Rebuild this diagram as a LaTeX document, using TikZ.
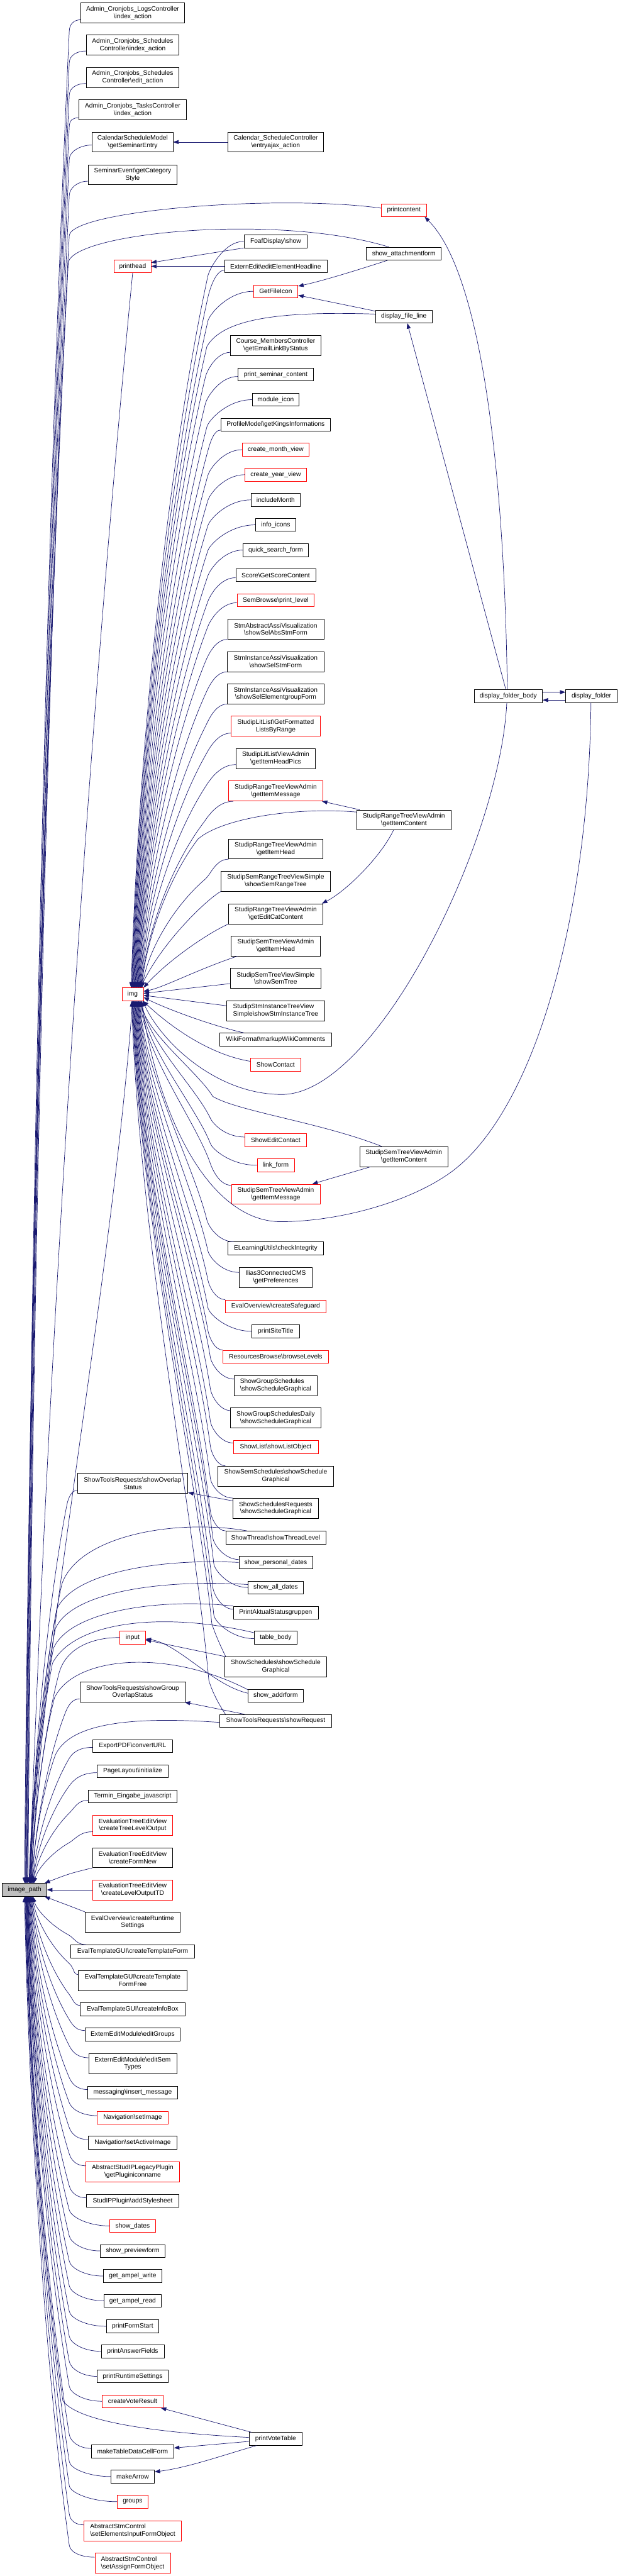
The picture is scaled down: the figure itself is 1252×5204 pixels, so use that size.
\documentclass[tikz,border=0pt]{standalone}
\usepackage{fontspec}
\newfontfamily\labfont{Liberation Sans}
\usetikzlibrary{arrows.meta,calc}
\definecolor{navy}{RGB}{25,25,112}
\definecolor{boxred}{RGB}{255,0,0}
\definecolor{ipgray}{RGB}{191,191,191}
\newcommand\bsl{\textbackslash}
\tikzset{
 nbox/.style={draw=black, fill=white, line width=0.9pt, font={\labfont\fontsize{13pt}{15pt}\selectfont}, inner xsep=2pt, inner ysep=1.5pt, minimum height=26pt, align=center, text=black},
 dbl/.style={minimum height=40.5pt},
 rbox/.style={nbox, draw=boxred},
 cedge/.style={draw=navy, line width=0.9pt, -{Triangle[length=11pt,width=8pt]}},
}
% trunk edge: #1 factor, #2 start, #3 bend x, #4 bend dy, #5 end
\newcommand\trk[5][0.5]{%
  \draw[cedge] let \p1=#2, \p2=(#3pt,{\y1+(#4pt)}), \p3=#5,
    \n1={\x2-\x3}, \n2={\y3-\y2}, \n3={atan2(0.25*(\n2),-#1*(\n1))} in
    (\p1) .. controls ({\x1-0.55*(\x1-\x2)},\y1) and ({\x2-14*cos(\n3)},{\y2-14*sin(\n3)}) .. (\p2)
    .. controls ({\x2-#1*(\n1)},{\y2+0.25*(\n2)}) and ({\x3+0.1*(\n1)},{\y2+0.65*(\n2)}) .. (\p3);}
% explicit first part: #2 start, #3 c1, #4 c2, #5 bend, #6 end
\newcommand\trkx[6][0.5]{%
  \draw[cedge] let \p2=#5, \p3=#6, \n1={\x2-\x3}, \n2={\y3-\y2} in
    #2 .. controls #3 and #4 .. (\p2)
    .. controls ({\x2-#1*(\n1)},{\y2+0.25*(\n2)}) and ({\x3+0.1*(\n1)},{\y2+0.65*(\n2)}) .. (\p3);}
\begin{document}
\begin{tikzpicture}[x=1pt,y=1pt]
\useasboundingbox (0,0) rectangle (1252,-5204);
% ---------------- nodes ----------------
\node[nbox,dbl,minimum width=210pt] (aclog) at (268,-26) {Admin\_Cronjobs\_LogsController\\\bsl index\_action};
\node[nbox,dbl,minimum width=187pt] (acsi) at (268,-91) {Admin\_Cronjobs\_Schedules\\Controller\bsl index\_action};
\node[nbox,dbl,minimum width=187pt] (acse) at (268,-156.5) {Admin\_Cronjobs\_Schedules\\Controller\bsl edit\_action};
\node[nbox,dbl,minimum width=217pt] (actask) at (268,-222) {Admin\_Cronjobs\_TasksController\\\bsl index\_action};
\node[nbox,dbl,minimum width=163pt] (calmodel) at (268,-287) {CalendarScheduleModel\\\bsl getSeminarEntry};
\node[nbox,dbl,minimum width=192pt] (calctrl) at (557,-287) {Calendar\_ScheduleController\\\bsl entryajax\_action};
\node[nbox,dbl,minimum width=180pt] (semevent) at (268,-353) {SeminarEvent\bsl getCategory\\Style};
\node[rbox,minimum width=91pt] (printcontent) at (816,-424.5) {printcontent};
\node[nbox,minimum width=128pt] (foaf) at (557,-487.5) {FoafDisplay\bsl show};
\node[nbox,minimum width=151pt] (showatt) at (816,-512.5) {show\_attachmentform};
\node[rbox,minimum width=74pt] (printhead) at (268,-538) {printhead};
\node[nbox,minimum width=207pt] (externedit) at (557,-538) {ExternEdit\bsl editElementHeadline};
\node[rbox,minimum width=90pt] (getfileicon) at (557,-588.5) {GetFileIcon};
\node[nbox,minimum width=114pt] (dfl) at (816,-639.5) {display\_file\_line};
\node[nbox,dbl,minimum width=182pt] (course) at (557,-697.7) {Course\_MembersController\\\bsl getEmailLinkByStatus};
\node[nbox,minimum width=151.5pt] (psc) at (557,-756.4) {print\_seminar\_content};
\node[nbox,minimum width=94pt] (modicon) at (557,-807.4) {module\_icon};
\node[nbox,minimum width=222pt] (profile) at (557,-857.8) {ProfileModel\bsl getKingsInformations};
\node[rbox,minimum width=134pt] (cmonth) at (557,-908.4) {create\_month\_view};
\node[rbox,minimum width=124pt] (cyear) at (557,-959) {create\_year\_view};
\node[nbox,minimum width=98pt] (incmonth) at (557,-1009.8) {includeMonth};
\node[nbox,minimum width=81pt] (infoicons) at (557,-1060.3) {info\_icons};
\node[nbox,minimum width=131.5pt] (qsf) at (557,-1111.2) {quick\_search\_form};
\node[nbox,minimum width=161.5pt] (score) at (557,-1162) {Score\bsl GetScoreContent};
\node[rbox,minimum width=156pt] (semb) at (557,-1212.6) {SemBrowse\bsl print\_level};
\node[nbox,dbl,minimum width=194.5pt] (stmabs) at (557,-1271) {StmAbstractAssiVisualization\\\bsl showSelAbsStmForm};
\node[nbox,dbl,minimum width=196pt] (stminst1) at (557,-1336.6) {StmInstanceAssiVisualization\\\bsl showSelStmForm};
\node[nbox,dbl,minimum width=196pt] (stminst2) at (557,-1401.8) {StmInstanceAssiVisualization\\\bsl showSelElementgroupForm};
\node[rbox,dbl,minimum width=179.6pt] (litlist) at (557,-1467) {StudipLitList\bsl GetFormatted\\ListsByRange};
\node[nbox,dbl,minimum width=159.5pt] (litadmin) at (557,-1532.5) {StudipLitListViewAdmin\\\bsl getItemHeadPics};
\node[rbox,dbl,minimum width=190pt] (rtvmsg) at (557,-1598) {StudipRangeTreeViewAdmin\\\bsl getItemMessage};
\node[nbox,dbl,minimum width=190pt] (rtvcont) at (816,-1656.5) {StudipRangeTreeViewAdmin\\\bsl getItemContent};
\node[nbox,dbl,minimum width=190pt] (rtvhead) at (557,-1715) {StudipRangeTreeViewAdmin\\\bsl getItemHead};
\node[nbox,dbl,minimum width=220pt] (semrange) at (557,-1780) {StudipSemRangeTreeViewSimple\\\bsl showSemRangeTree};
\node[nbox,dbl,minimum width=190pt] (rtvedit) at (557,-1846) {StudipRangeTreeViewAdmin\\\bsl getEditCatContent};
\node[nbox,dbl,minimum width=180pt] (stvhead) at (557,-1911) {StudipSemTreeViewAdmin\\\bsl getItemHead};
\node[nbox,dbl,minimum width=182pt] (semtree) at (557,-1976) {StudipSemTreeViewSimple\\\bsl showSemTree};
\node[nbox,dbl,minimum width=197.5pt,align=left] (stminsttree) at (557,-2041.8) {StudipStmInstanceTreeView\\Simple\bsl showStmInstanceTree};
\node[nbox,minimum width=226pt] (wiki) at (557,-2100) {WikiFormat\bsl markupWikiComments};
\node[rbox,minimum width=101.5pt] (showcontact) at (557,-2151) {ShowContact};
\node[rbox,minimum width=43pt] (img) at (268,-2008.7) {img};
\node[rbox,minimum width=124.5pt] (editcontact) at (557,-2303) {ShowEditContact};
\node[nbox,dbl,minimum width=178pt] (stvcont) at (816,-2336.5) {StudipSemTreeViewAdmin\\\bsl getItemContent};
\node[rbox,minimum width=75pt] (linkform) at (557,-2354) {link\_form};
\node[rbox,dbl,minimum width=179pt] (stvmsg) at (557,-2412.5) {StudipSemTreeViewAdmin\\\bsl getItemMessage};
\node[nbox,minimum width=193.5pt] (elearn) at (557,-2522) {ELearningUtils\bsl checkIntegrity};
\node[nbox,dbl,minimum width=147.3pt] (ilias) at (557,-2580.5) {Ilias3ConnectedCMS\\\bsl getPreferences};
\node[rbox,minimum width=203pt] (safeguard) at (557,-2639) {EvalOverview\bsl createSafeguard};
\node[nbox,minimum width=96pt] (sitetitle) at (557,-2689.4) {printSiteTitle};
\node[rbox,minimum width=214pt] (resbrowse) at (557,-2740.6) {ResourcesBrowse\bsl browseLevels};
\node[nbox,dbl,minimum width=167pt,align=left] (groupsched) at (557,-2799) {ShowGroupSchedules\\\bsl showScheduleGraphical};
\node[nbox,dbl,minimum width=182pt] (groupdaily) at (557,-2864.5) {ShowGroupSchedulesDaily\\\bsl showScheduleGraphical};
\node[rbox,minimum width=171.4pt] (showlist) at (557,-2923) {ShowList\bsl showListObject};
\node[nbox,dbl,minimum width=232.7pt] (semsched) at (557,-2982) {ShowSemSchedules\bsl showSchedule\\Graphical};
\node[nbox,dbl,minimum width=223pt] (overlap) at (268,-2996.6) {ShowToolsRequests\bsl showOverlap\\Status};
\node[nbox,dbl,minimum width=172.7pt] (schedreq) at (557,-3047) {ShowSchedulesRequests\\\bsl showScheduleGraphical};
\node[nbox,minimum width=202pt] (thread) at (557,-3106) {ShowThread\bsl showThreadLevel};
\node[nbox,minimum width=148.6pt] (personal) at (557,-3156.4) {show\_personal\_dates};
\node[nbox,minimum width=112pt] (alldates) at (557,-3207) {show\_all\_dates};
\node[nbox,minimum width=171.4pt] (aktual) at (557,-3257.8) {PrintAktualStatusgruppen};
\node[nbox,minimum width=86pt] (tablebody) at (557,-3308.4) {table\_body};
\node[rbox,minimum width=51.7pt] (input) at (268,-3308) {input};
\node[nbox,dbl,minimum width=205.4pt] (showsched) at (557,-3367) {ShowSchedules\bsl showSchedule\\Graphical};
\node[nbox,minimum width=111pt] (addrform) at (557,-3425.6) {show\_addrform};
\node[nbox,dbl,minimum width=213.3pt] (groupoverlap) at (268,-3418) {ShowToolsRequests\bsl showGroup\\OverlapStatus};
\node[nbox,minimum width=226pt] (showreq) at (557,-3476.5) {ShowToolsRequests\bsl showRequest};
\node[nbox,minimum width=162pt] (exportpdf) at (268,-3527) {ExportPDF\bsl convertURL};
\node[nbox,minimum width=143pt] (pagelayout) at (268,-3578) {PageLayout\bsl initialize};
\node[nbox,minimum width=180pt] (termin) at (268,-3628.8) {Termin\_Eingabe\_javascript};
\node[rbox,dbl,minimum width=162pt] (etreelevel) at (268,-3687.4) {EvaluationTreeEditView\\\bsl createTreeLevelOutput};
\node[nbox,dbl,minimum width=162pt] (eformnew) at (268,-3752.8) {EvaluationTreeEditView\\\bsl createFormNew};
\node[nbox,fill=ipgray,minimum width=89.7pt] (ip) at (49.6,-3817.8) {image\_path};
\node[rbox,dbl,minimum width=162pt] (eleveltd) at (268,-3817.8) {EvaluationTreeEditView\\\bsl createLevelOutputTD};
\node[nbox,dbl,minimum width=192pt] (runtime) at (268,-3883) {EvalOverview\bsl createRuntime\\Settings};
\node[nbox,minimum width=251pt] (tform) at (268,-3942) {EvalTemplateGUI\bsl createTemplateForm};
\node[nbox,dbl,minimum width=220.5pt] (tformfree) at (268,-4000.7) {EvalTemplateGUI\bsl createTemplate\\FormFree};
\node[nbox,minimum width=211.3pt] (infobox) at (268,-4059.2) {EvalTemplateGUI\bsl createInfoBox};
\node[nbox,minimum width=192pt] (editgroups) at (268,-4110) {ExternEditModule\bsl editGroups};
\node[nbox,dbl,minimum width=177.7pt] (editsem) at (268,-4169) {ExternEditModule\bsl editSem\\Types};
\node[nbox,minimum width=181.3pt] (msg) at (268,-4227.3) {messaging\bsl insert\_message};
\node[rbox,minimum width=143pt] (setimage) at (268,-4278) {Navigation\bsl setImage};
\node[nbox,minimum width=179pt] (setactive) at (268,-4328.3) {Navigation\bsl setActiveImage};
\node[rbox,dbl,minimum width=189.6pt] (legacy) at (268,-4387.3) {AbstractStudIPLegacyPlugin\\\bsl getPluginiconname};
\node[nbox,minimum width=186pt] (addstyle) at (268,-4446) {StudIPPlugin\bsl addStylesheet};
\node[rbox,minimum width=92pt] (showdates) at (268,-4496.7) {show\_dates};
\node[nbox,minimum width=131pt] (preview) at (268,-4547.2) {show\_previewform};
\node[nbox,minimum width=118pt] (ampelw) at (268,-4598) {get\_ampel\_write};
\node[nbox,minimum width=115pt] (ampelr) at (268,-4648) {get\_ampel\_read};
\node[nbox,minimum width=105pt] (formstart) at (268,-4699.5) {printFormStart};
\node[nbox,minimum width=127pt] (answer) at (268,-4750) {printAnswerFields};
\node[nbox,minimum width=144pt] (prtruntime) at (268,-4800.6) {printRuntimeSettings};
\node[rbox,minimum width=123pt] (voteresult) at (268,-4851) {createVoteResult};
\node[nbox,minimum width=106.7pt] (votetable) at (557,-4927) {printVoteTable};
\node[nbox,minimum width=166pt] (cellform) at (268,-4952.3) {makeTableDataCellForm};
\node[nbox,minimum width=87.7pt] (arrow) at (268,-5003) {makeArrow};
\node[rbox,minimum width=61.6pt] (groups) at (268,-5053.8) {groups};
\node[rbox,dbl,minimum width=196pt,align=left] (stmelem) at (268,-5112.7) {AbstractStmControl\\\bsl setElementsInputFormObject};
\node[rbox,dbl,minimum width=152.6pt,align=left] (stmassign) at (268,-5178) {AbstractStmControl\\\bsl setAssignFormObject};
\node[nbox,minimum width=138pt] (dfb) at (1027,-1406.3) {display\_folder\_body};
\node[nbox,minimum width=104pt] (df) at (1195,-1406.3) {display\_folder};
% ---------------- edges into image_path (top) ----------------
\trk{([yshift=-14pt]aclog.west)}{140}{-22}{([xshift=2pt]ip.north)}
\trk{([yshift=-12pt]acsi.west)}{140}{-23}{([xshift=3pt]ip.north)}
\trk{([yshift=-12pt]acse.west)}{140}{-23}{([xshift=4pt]ip.north)}
\trk{([yshift=-16pt]actask.west)}{140}{-17}{([xshift=5pt]ip.north)}
\trk{([yshift=-6pt]calmodel.west)}{140}{-28}{([xshift=6pt]ip.north)}
\trk{([yshift=-13pt]semevent.west)}{140}{-28}{([xshift=7pt]ip.north)}
\trkx{([yshift=4pt]printcontent.west)}{(560,-392)}{(150,-425)}{(140,-475)}{([xshift=0pt]ip.north)}
\trkx{([xshift=-30pt]showatt.north)}{(560,-430)}{(150,-470)}{(138,-530)}{([xshift=1pt]ip.north)}
\draw[cedge] (printhead.south) .. controls (171,-1551) and (94,-2805) .. ([xshift=10pt]ip.north);
\draw[cedge] (img.south) .. controls (225,-2600) and (85,-3300) .. ([xshift=13pt]ip.north);
\trk{([yshift=-14pt]overlap.west)}{135}{-30}{([xshift=11pt]ip.north)}
\trkx{([xshift=-58pt]thread.north)}{(360,-3068)}{(160,-3100)}{(125,-3200)}{([xshift=9pt]ip.north)}
\trkx{(personal.west)}{(330,-3148)}{(150,-3175)}{(115,-3250)}{([xshift=10pt]ip.north)}
\trkx{([yshift=6pt]alldates.west)}{(330,-3190)}{(145,-3215)}{(112,-3290)}{([xshift=11pt]ip.north)}
\trkx{(aktual.north west)}{(320,-3228)}{(140,-3255)}{(108,-3330)}{([xshift=12pt]ip.north)}
\trkx{([yshift=10pt]tablebody.west)}{(330,-3255)}{(150,-3275)}{(106,-3360)}{([xshift=12pt]ip.north)}
\trkx{(input.west)}{(185,-3308)}{(130,-3330)}{(118,-3385)}{([xshift=14pt]ip.north)}
\trkx{([yshift=12pt]addrform.west)}{(340,-3330)}{(150,-3345)}{(110,-3430)}{([xshift=13pt]ip.north)}
\trk{([yshift=-14pt]groupoverlap.west)}{132}{-28}{([xshift=15pt]ip.north)}
\trkx{([yshift=-3pt]showreq.west)}{(250,-3466)}{(140,-3485)}{(112,-3545)}{([xshift=15pt]ip.north)}
\trk{([yshift=-3pt]exportpdf.west)}{140}{-22}{([xshift=16pt]ip.north)}
\trk{([yshift=-3pt]pagelayout.west)}{142}{-24}{([xshift=17pt]ip.north)}
\trk{([yshift=-8pt]termin.west)}{140}{-26}{([xshift=18pt]ip.north)}
\trk{([yshift=-13pt]etreelevel.west)}{140}{-22}{([xshift=19pt]ip.north)}
\draw[cedge] (eformnew.south west) .. controls (140,-3785) .. ([xshift=-5pt]ip.north east);
\draw[cedge] (eleveltd.west) -- (ip.east);
\draw[cedge] (runtime.north west) .. controls (140,-3850) .. ([xshift=-5pt]ip.south east);
% ---------------- edges into image_path (bottom) ----------------
\trk{([xshift=32pt]tform.north west)}{138}{20}{([xshift=17pt]ip.south)}
\trk{([yshift=12pt]tformfree.west)}{140}{22}{([xshift=16pt]ip.south)}
\trk{([yshift=8pt]infobox.west)}{140}{22}{([xshift=15pt]ip.south)}
\trk{([yshift=8pt]editgroups.west)}{140}{22}{([xshift=14pt]ip.south)}
\trk{([yshift=12pt]editsem.west)}{140}{24}{([xshift=13pt]ip.south)}
\trk{([yshift=6pt]msg.west)}{140}{24}{([xshift=12pt]ip.south)}
\trk{([yshift=4pt]setimage.west)}{140}{26}{([xshift=11pt]ip.south)}
\trk{([yshift=6pt]setactive.west)}{140}{24}{([xshift=10pt]ip.south)}
\trk{([yshift=12pt]legacy.west)}{140}{24}{([xshift=9pt]ip.south)}
\trk{([yshift=6pt]addstyle.west)}{140}{24}{([xshift=8pt]ip.south)}
\trk{(showdates.west)}{140}{32}{([xshift=7pt]ip.south)}
\trk{(preview.west)}{140}{30}{([xshift=7pt]ip.south)}
\trk{(ampelw.west)}{140}{30}{([xshift=6pt]ip.south)}
\trk{(ampelr.west)}{140}{30}{([xshift=6pt]ip.south)}
\trk{(formstart.west)}{140}{30}{([xshift=5pt]ip.south)}
\trk{(answer.west)}{140}{30}{([xshift=5pt]ip.south)}
\trk{(prtruntime.west)}{140}{30}{([xshift=4pt]ip.south)}
\trk{(voteresult.west)}{140}{30}{([xshift=4pt]ip.south)}
\trkx{([yshift=3pt]votetable.west)}{(330,-4915)}{(160,-4895)}{(127,-4850)}{([xshift=3pt]ip.south)}
\trk{([yshift=6pt]cellform.west)}{140}{28}{([xshift=3pt]ip.south)}
\trk{(arrow.west)}{140}{30}{([xshift=2pt]ip.south)}
\trk{(groups.west)}{140}{32}{([xshift=2pt]ip.south)}
\trk{([yshift=12pt]stmelem.west)}{140}{22}{([xshift=1pt]ip.south)}
\trk{([yshift=12pt]stmassign.west)}{140}{24}{([xshift=0pt]ip.south)}
% ---------------- edges into img (top) ----------------
\trk{(foaf.west)}{420}{-70}{([xshift=-3pt]img.north)}
\trk{([yshift=-8pt]externedit.west)}{420}{-55}{([xshift=-2pt]img.north)}
\trk{(getfileicon.west)}{420}{-60}{([xshift=-1pt]img.north)}
\trkx{([yshift=5pt]dfl.west)}{(560,-628)}{(450,-645)}{(418,-700)}{([xshift=0pt]img.north)}
\trk{([yshift=-14pt]course.west)}{415}{-50}{([xshift=1pt]img.north)}
\trk{([yshift=-4pt]psc.west)}{415}{-55}{([xshift=2pt]img.north)}
\trk{(modicon.west)}{418}{-55}{([xshift=3pt]img.north)}
\trk{([yshift=-11pt]profile.west)}{420}{-42}{([xshift=4pt]img.north)}
\trk{(cmonth.west)}{420}{-52}{([xshift=5pt]img.north)}
\trk{(cyear.west)}{420}{-52}{([xshift=6pt]img.north)}
\trk{(incmonth.west)}{420}{-52}{([xshift=7pt]img.north)}
\trk{(infoicons.west)}{420}{-52}{([xshift=8pt]img.north)}
\trk{(qsf.west)}{420}{-52}{([xshift=9pt]img.north)}
\trk{([yshift=-5pt]score.west)}{420}{-48}{([xshift=10pt]img.north)}
\trk{([yshift=-5pt]semb.west)}{420}{-48}{([xshift=11pt]img.north)}
\trk{(stmabs.south west)}{415}{-45}{([xshift=12pt]img.north)}
\trk{(stminst1.south west)}{415}{-45}{([xshift=13pt]img.north)}
\trk{(stminst2.south west)}{415}{-45}{([xshift=14pt]img.north)}
\trk{([yshift=-14pt]litlist.west)}{415}{-45}{([xshift=15pt]img.north)}
\trk{([yshift=-12pt]litadmin.west)}{415}{-45}{([xshift=16pt]img.north)}
\trk{([xshift=10pt]rtvmsg.south west)}{410}{-45}{([xshift=17pt]img.north)}
\trkx{([yshift=16pt]rtvcont.west)}{(600,-1630)}{(450,-1652)}{(400,-1695)}{([xshift=18pt]img.north)}
\trk{(rtvhead.south west)}{415}{-40}{([xshift=19pt]img.north)}
\draw[cedge] (semrange.south west) .. controls (420,-1815) and (330,-1900) .. ([xshift=-6pt]img.north east);
\draw[cedge] (rtvedit.south west) .. controls (420,-1885) and (340,-1940) .. (img.north east);
\draw[cedge] ([xshift=13pt]stvhead.south west) .. controls (400,-1958) and (330,-1995) .. ([yshift=6pt]img.east);
\draw[cedge] ([yshift=-11pt]semtree.west) -- ([yshift=2pt]img.east);
\draw[cedge] ([yshift=10pt]stminsttree.west) -- ([yshift=-2pt]img.east);
\draw[cedge] ([xshift=-64pt]wiki.north) .. controls (420,-2070) and (330,-2035) .. ([yshift=-6pt]img.east);
\draw[cedge] ([yshift=7pt]showcontact.west) .. controls (420,-2130) and (340,-2070) .. ([xshift=-1pt]img.south east);
% ---------------- edges into img (bottom) ----------------
\trk[0.2]{([yshift=6pt]editcontact.west)}{425}{38}{([xshift=18pt]img.south)}
\trk[0.2]{(linkform.west)}{425}{44}{([xshift=17pt]img.south)}
\trkx[0.2]{([xshift=-45pt]stvcont.north)}{(650,-2268)}{(480,-2245)}{(430,-2215)}{([xshift=16pt]img.south)}
\trk[0.2]{([yshift=18pt]stvmsg.west)}{425}{44}{([xshift=15pt]img.south)}
\trk[0.2]{([xshift=12pt]elearn.north west)}{418}{44}{([xshift=14pt]img.south)}
\trk[0.2]{([yshift=10pt]ilias.west)}{420}{44}{([xshift=13pt]img.south)}
\trk[0.2]{(safeguard.north west)}{420}{40}{([xshift=12pt]img.south)}
\trk[0.2]{(sitetitle.west)}{420}{48}{([xshift=11pt]img.south)}
\trk[0.2]{(resbrowse.north west)}{420}{40}{([xshift=10pt]img.south)}
\trk[0.2]{([yshift=13pt]groupsched.west)}{425}{44}{([xshift=9pt]img.south)}
\trk[0.2]{([yshift=15pt]groupdaily.west)}{425}{44}{([xshift=8pt]img.south)}
\trk[0.2]{([yshift=8pt]showlist.west)}{425}{44}{([xshift=7pt]img.south)}
\trk[0.2]{([xshift=15pt]semsched.north west)}{425}{40}{([xshift=6pt]img.south)}
\trk[0.2]{(schedreq.north west)}{425}{40}{([xshift=5pt]img.south)}
\trk[0.2]{(thread.north west)}{425}{40}{([xshift=4pt]img.south)}
\trk[0.2]{([yshift=6pt]personal.west)}{430}{44}{([xshift=3pt]img.south)}
\trk[0.2]{(alldates.west)}{432}{48}{([xshift=2pt]img.south)}
\trk[0.2]{([yshift=7pt]aktual.west)}{430}{44}{([xshift=1pt]img.south)}
\trk[0.2]{([yshift=-2pt]tablebody.west)}{432}{48}{([xshift=0pt]img.south)}
\trkx[0.2]{([xshift=2pt]showsched.north west)}{(448,-3330)}{(436,-3305)}{(428,-3280)}{([xshift=-1pt]img.south)}
\trkx[0.2]{([xshift=12pt]showreq.north west)}{(440,-3440)}{(428,-3415)}{(422,-3395)}{([xshift=-2pt]img.south)}
\draw[cedge] ([xshift=-3pt]dfb.south) .. controls (1010,-1700) and (760,-2211) .. (569.5,-2211) .. controls (440,-2211) and (330,-2110) .. ([xshift=-2pt]img.south east);
\draw[cedge] ([xshift=-1pt]df.south) .. controls (1190,-1850) and (1080,-2250) .. (907,-2371) .. controls (821,-2431) and (680,-2468) .. (567,-2468) .. controls (440,-2468) and (330,-2300) .. ([xshift=-5pt]img.south east);
% ---------------- other edges ----------------
\draw[cedge] (calctrl.west) -- (calmodel.east);
\draw[cedge] (foaf.south west) -- ([yshift=-6pt]printhead.north east);
\draw[cedge] (externedit.west) -- (printhead.east);
\draw[cedge] ([xshift=-33pt]showatt.south) .. controls (690,-556) and (640,-570) .. ([yshift=-3pt]getfileicon.north east);
\draw[cedge] ([yshift=11pt]dfl.west) -- ([yshift=-8pt]getfileicon.east);
\draw[cedge] ([xshift=-2pt]dfb.north) .. controls (1020,-1000) and (980,-560) .. ([xshift=-4pt]printcontent.south east);
\draw[cedge] ([xshift=-5pt]dfb.north) -- ([xshift=7pt]dfl.south);
\draw[cedge] ([yshift=8pt]dfb.east) -- ([yshift=8pt]df.west);
\draw[cedge] ([yshift=-8pt]df.west) -- ([yshift=-8pt]dfb.east);
\draw[cedge] ([xshift=6pt]rtvcont.north west) -- ([xshift=-2pt]rtvmsg.south east);
\draw[cedge] ([xshift=-21pt]rtvcont.south) .. controls (770,-1730) and (700,-1800) .. ([xshift=-2pt]rtvedit.north east);
\draw[cedge] ([xshift=22pt]stvcont.south west) -- ([xshift=-16pt]stvmsg.north east);
\draw[cedge] ([yshift=15pt]schedreq.west) -- ([yshift=2pt]overlap.south east);
\draw[cedge] (showsched.north west) -- ([yshift=-5pt]input.east);
\draw[cedge] ([yshift=5pt]addrform.west) .. controls (430,-3405) and (360,-3320) .. ([yshift=-3pt]input.east);
\draw[cedge] ([xshift=-63pt]showreq.north) -- ([xshift=-2pt]groupoverlap.south east);
\draw[cedge] ([xshift=5pt]votetable.north west) -- ([xshift=-5pt]voteresult.south east);
\draw[cedge] ([yshift=-5pt]votetable.west) -- ([yshift=7pt]cellform.east);
\draw[cedge] ([xshift=15pt]votetable.south west) .. controls (450,-4960) and (380,-4985) .. ([yshift=-4pt]arrow.north east);
\end{tikzpicture}
\end{document}
